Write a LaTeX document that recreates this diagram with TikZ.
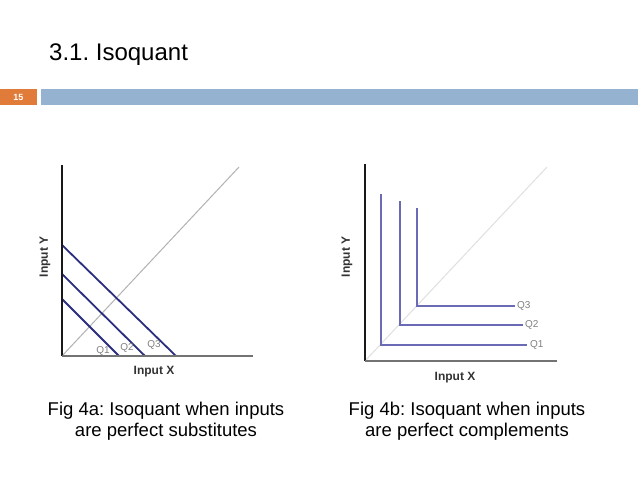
\documentclass[tikz,border=0pt]{standalone}
\usepackage{fontspec}
\setmainfont{Liberation Sans}
\frenchspacing
\begin{document}
\begin{tikzpicture}[x=1pt,y=-1pt,
  title/.style={font=\fontsize{24}{28}\selectfont, text=black, inner sep=0pt},
  caption/.style={font=\fontsize{18.5}{21}\selectfont, align=center, inner sep=0pt, text=black},
  axlabel/.style={font=\bfseries\fontsize{12}{14}\selectfont, text=black!80, inner sep=0pt},
  qlabel/.style={font=\fontsize{10}{11}\selectfont, text=black!50, inner sep=0pt},
  yaxis/.style={draw=black!90, line width=1.3pt},
  xaxis/.style={draw=black!55, line width=1.8pt},
  subst/.style={draw=navy, line width=1.8pt},
  compl/.style={draw=lav, line width=1.5pt},
]
\definecolor{orangebox}{HTML}{E07B39}
\definecolor{bluebar}{HTML}{95B3D0}
\definecolor{navy}{HTML}{2B2E7E}
\definecolor{lav}{HTML}{6B6BB5}
\useasboundingbox (0,0) rectangle (638,479);
\fill[white] (0,0) rectangle (638,479);

% header
\node[title, anchor=base west] (t) at (49,60) {3.1. Isoquant};
\fill[orangebox] (0,89) rectangle (37,105);
\node[font=\bfseries\fontsize{9}{10}\selectfont, text=white, inner sep=0pt] (num) at (18.5,97) {15};
\fill[bluebar] (41,89) rectangle (638,105);

% ---------- left chart ----------
\coordinate (lo) at (62,356);
\coordinate (lytop) at (62,165);
\coordinate (lxend) at (253,356);
\coordinate (ldiag) at (239,167);
\draw[black!30, line width=1pt] (lo) -- (ldiag);
\coordinate (a3) at (62,245); \coordinate (b3) at (176,356);
\coordinate (a2) at (62,274); \coordinate (b2) at (145,356);
\coordinate (a1) at (62,299); \coordinate (b1) at (119,356);
\draw[subst] (a3) -- (b3);
\draw[subst] (a2) -- (b2);
\draw[subst] (a1) -- (b1);
\draw[yaxis] (lytop) -- (lo);
\draw[xaxis] (lo) -- (lxend);
\node[qlabel] (lq1) at (103,351) {Q1};
\node[qlabel] (lq2) at (127,348) {Q2};
\node[qlabel] (lq3) at (154,345) {Q3};
\node[axlabel, rotate=90] (lyl) at (45,257) {Input Y};
\node[axlabel] (lxl) at (154,372) {Input X};

% ---------- right chart ----------
\coordinate (ro) at (365,361);
\coordinate (rytop) at (365,164);
\coordinate (rxend) at (557,361);
\coordinate (rdiag) at (547,167);
\draw[black!12, line width=1pt] (ro) -- (rdiag);
\coordinate (c1t) at (381,194); \coordinate (c1) at (381,345); \coordinate (c1e) at (527,345);
\coordinate (c2t) at (400,201); \coordinate (c2) at (400,325); \coordinate (c2e) at (523,325);
\coordinate (c3t) at (417,208); \coordinate (c3) at (417,306); \coordinate (c3e) at (515,306);
\draw[compl] (c1t) -- (c1) -- (c1e);
\draw[compl] (c2t) -- (c2) -- (c2e);
\draw[compl] (c3t) -- (c3) -- (c3e);
\draw[yaxis] (rytop) -- (ro);
\draw[xaxis] (ro) -- (rxend);
\node[qlabel, anchor=west] (rq1) at (530,345) {Q1};
\node[qlabel, anchor=west] (rq2) at (525,325) {Q2};
\node[qlabel, anchor=west] (rq3) at (517,306) {Q3};
\node[axlabel, rotate=90] (ryl) at (347,257) {Input Y};
\node[axlabel] (rxl) at (455,378) {Input X};

% captions
\node[caption, anchor=base] (cap1) at (166,436) {Fig 4a: Isoquant when inputs\\are perfect substitutes};
\node[caption, anchor=base] (cap2) at (467,436) {Fig 4b: Isoquant when inputs\\are perfect complements};
\end{tikzpicture}
\end{document}
